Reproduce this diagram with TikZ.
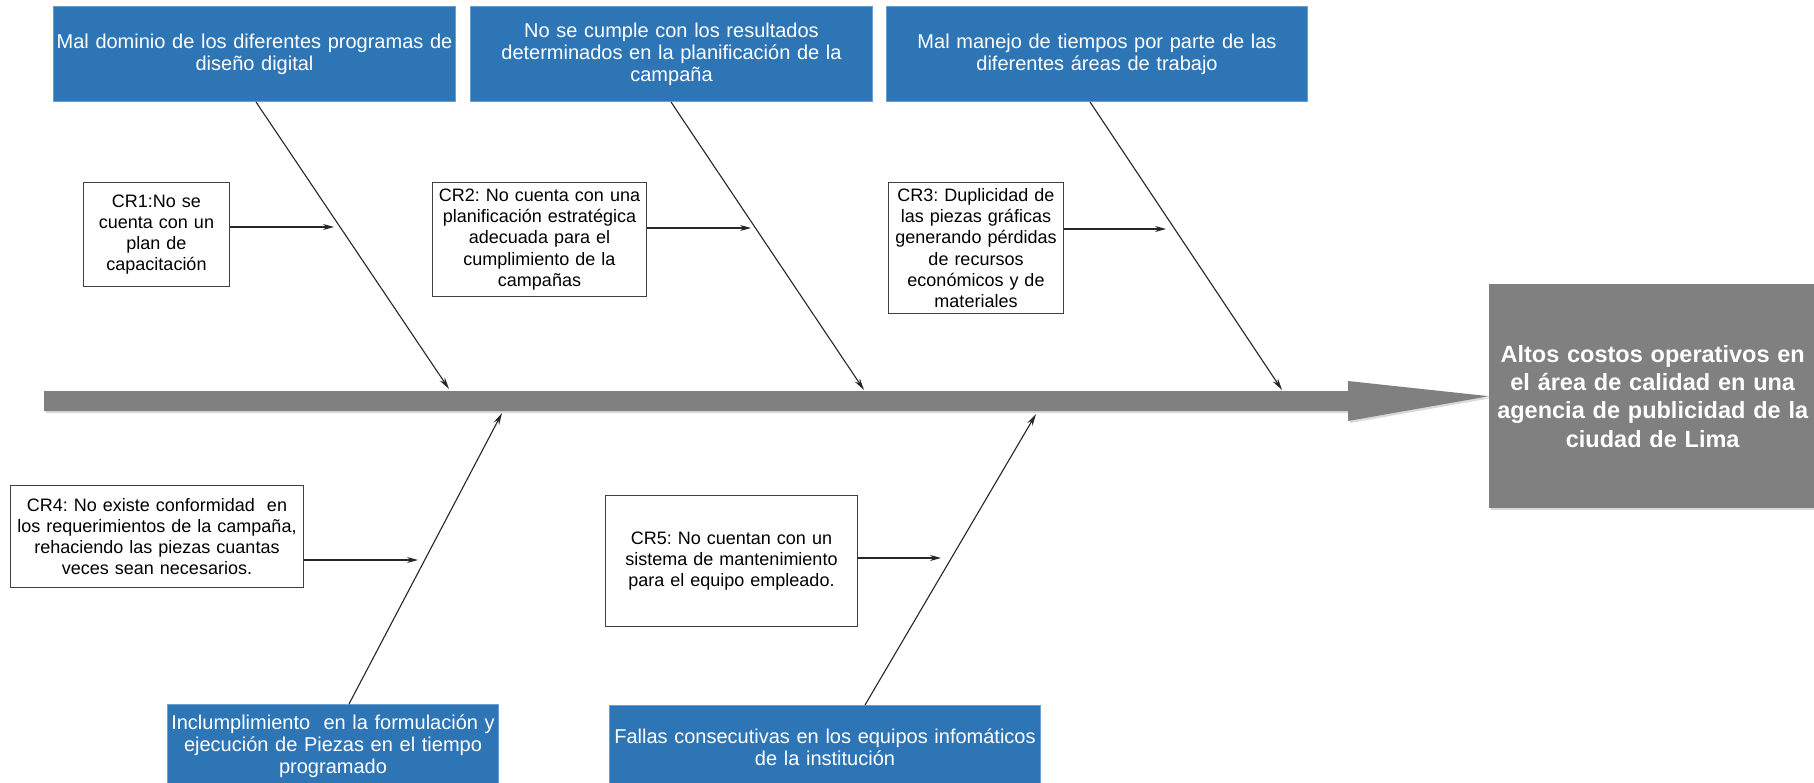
\documentclass[tikz,border=0pt]{standalone}
\usepackage{fontspec}
\setmainfont{Liberation Sans}
\usetikzlibrary{arrows.meta,shadows}
\definecolor{causeblue}{HTML}{2E75B6}
\definecolor{causeedge}{HTML}{6A9FD6}
\definecolor{spinegray}{HTML}{808080}
\frenchspacing

\begin{document}
\begin{tikzpicture}[x=1pt,y=-1pt,
  causebox/.style={fill=causeblue, draw=causeedge, line width=1pt, text=white,
    inner sep=0pt, align=center, anchor=north west,
    font=\fontsize{20}{22}\selectfont},
  rootbox/.style={fill=white, draw=black!75, line width=1pt, inner sep=0pt,
    align=center, anchor=north west, font=\fontsize{18}{21.2}\selectfont},
  effectbox/.style={fill=spinegray, text=white, inner sep=0pt, align=center,
    anchor=north west, font=\bfseries\fontsize{23.5}{28.3}\selectfont,
    drop shadow={shadow xshift=2pt, shadow yshift=-2pt, opacity=0.3}},
  bone/.style={draw=black!85, line width=1.1pt, -{Stealth[length=12pt,width=6pt]}},
  feeder/.style={draw=black!85, line width=1.1pt, -{Stealth[length=11pt,width=6pt]}},
  spine/.style={fill=spinegray,
    drop shadow={shadow xshift=2pt, shadow yshift=-2pt, opacity=0.3}}
]
\useasboundingbox (0,0) rectangle (1814,782);

% main causes
\node[causebox, minimum width=402pt, minimum height=95pt, text width=402pt] (b1) at (53,6)
  {Mal dominio de los diferentes programas de\\diseño digital};
\node[causebox, minimum width=402pt, minimum height=95pt, text width=402pt] (b2) at (470,6)
  {No se cumple con los resultados\\determinados en la planificación de la\\campaña};
\node[causebox, minimum width=421pt, minimum height=95pt, text width=421pt] (b3) at (886,6)
  {Mal manejo de tiempos por parte de las\\diferentes áreas de trabajo};
\node[causebox, minimum width=331pt, minimum height=84pt, text width=331pt] (b4) at (167,704)
  {Inclumplimiento\ \ en la formulación y\\ejecución de Piezas en el tiempo\\programado};
\node[causebox, minimum width=431pt, minimum height=84pt, text width=431pt] (b5) at (609,705)
  {Fallas consecutivas en los equipos infomáticos\\de la institución};

% root causes
\node[rootbox, minimum width=146pt, minimum height=104pt, text width=146pt] (cr1) at (83,182)
  {CR1:No se\\cuenta con un\\plan de\\capacitación};
\node[rootbox, minimum width=214pt, minimum height=114pt, text width=214pt] (cr2) at (432,182)
  {CR2: No cuenta con una\\planificación estratégica\\adecuada para el\\cumplimiento de la\\campañas};
\node[rootbox, minimum width=175pt, minimum height=131pt, text width=175pt] (cr3) at (888,182)
  {CR3: Duplicidad de\\las piezas gráficas\\generando pérdidas\\de recursos\\económicos y de\\materiales};
\node[rootbox, minimum width=293pt, minimum height=102pt, text width=293pt] (cr4) at (10,485)
  {CR4: No existe conformidad\ \ en\\los requerimientos de la campaña,\\rehaciendo las piezas cuantas\\veces sean necesarios.};
\node[rootbox, minimum width=252pt, minimum height=131pt, text width=252pt] (cr5) at (605,495)
  {CR5: No cuentan con un\\sistema de mantenimiento\\para el equipo empleado.};

% effect
\node[effectbox, minimum width=327pt, minimum height=224pt, text width=327pt] (eff) at (1489,284)
  {Altos costos operativos en\\el área de calidad en una\\agencia de publicidad de la\\ciudad de Lima};

% spine of the fishbone
\path[spine] (44,391) -- (1348,391) -- (1348,381) -- (eff.west) -- (1348,421)
  -- (1348,411) -- (44,411) -- cycle;

% bone end points on the spine and their x positions on the boxes
\coordinate (t1) at (449,389);  \coordinate (x1) at (256,0);
\coordinate (t2) at (864,390);  \coordinate (x2) at (671,0);
\coordinate (t3) at (1282,390); \coordinate (x3) at (1090,0);
\coordinate (t4) at (502,413);  \coordinate (x4) at (349,0);
\coordinate (t5) at (1036,414); \coordinate (x5) at (865,0);

\draw[bone] (b1.south -| x1) -- (t1);
\draw[bone] (b2.south -| x2) -- (t2);
\draw[bone] (b3.south -| x3) -- (t3);
\draw[bone] (b4.north -| x4) -- (t4);
\draw[bone] (b5.north -| x5) -- (t5);

% feeders from root causes to bones
\coordinate (h1) at (334,227);
\coordinate (h2) at (751,228);
\coordinate (h3) at (1166,229);
\coordinate (h4) at (418,560);
\coordinate (h5) at (941,558);

\draw[feeder] (cr1.east |- h1) -- (h1);
\draw[feeder] (cr2.east |- h2) -- (h2);
\draw[feeder] (cr3.east |- h3) -- (h3);
\draw[feeder] (cr4.east |- h4) -- (h4);
\draw[feeder] (cr5.east |- h5) -- (h5);
\end{tikzpicture}
\end{document}
